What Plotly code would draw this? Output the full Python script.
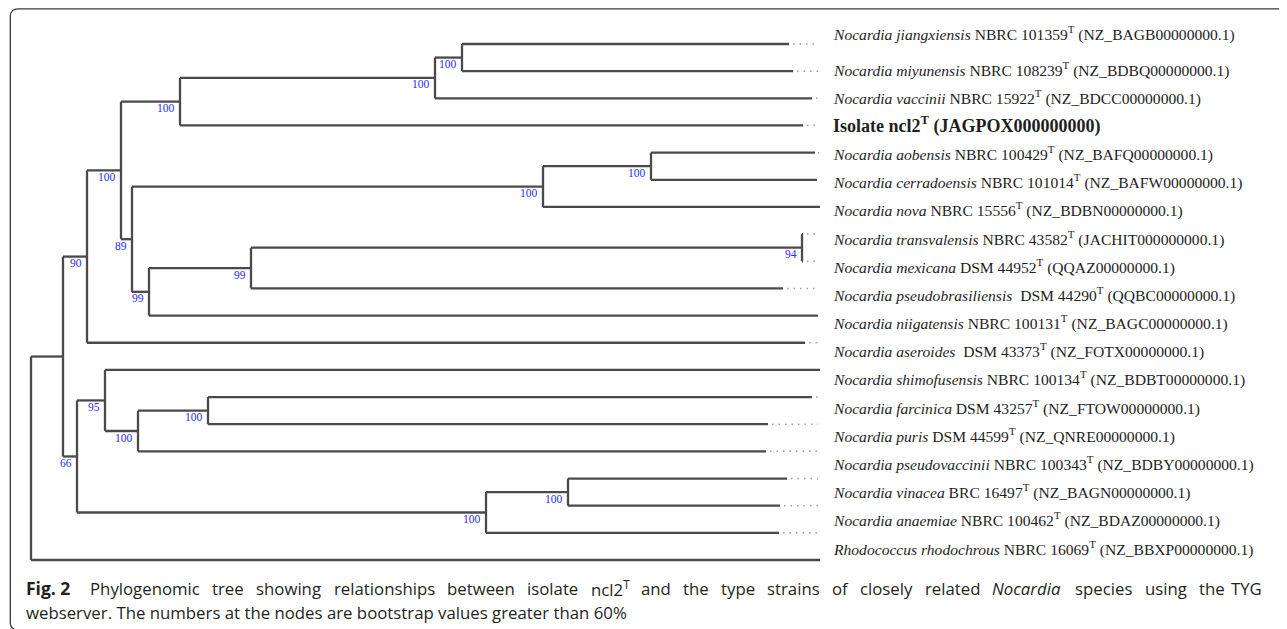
import plotly.graph_objects as go

# ---------------- data ----------------
# tips of the tree, top to bottom, with the clade each hangs from and its depth
leaf_names = ["N. jiangxiensis", "N. miyunensis", "N. vaccinii", "Isolate ncl2",
              "N. aobensis", "N. cerradoensis", "N. nova", "N. transvalensis",
              "N. mexicana", "N. pseudobrasiliensis", "N. niigatensis", "N. aseroides",
              "N. shimofusensis", "N. farcinica", "N. puris", "N. pseudovaccinii",
              "N. vinacea", "N. anaemiae", "unlabelled tip", "R. rhodochrous"]
leaf_parent = ["H", "H", "G", "E", "L", "L", "K", "M", "M", "J", "I", "B",
               "N", "Q", "Q", "P", "R", "R", "O", "root"]
leaf_depth = [758, 762, 781, 772, 784, 786, 789, 772, 772, 752, 787, 774,
              789, 781, 737, 735, 756, 749, 748, 789]

# internal nodes (clades), their parent clade, depth and bootstrap support
clade_names = ["root", "A", "B", "D", "E", "G", "H", "F", "K", "L", "I", "J", "M",
               "C", "N", "P", "Q", "O", "R"]
clade_parent = [None, "root", "A", "B", "D", "E", "G", "D", "F", "K", "F", "I", "J",
                "A", "C", "N", "P", "C", "O"]
clade_depth = [0, 32, 56, 90, 149, 404, 431, 101, 512, 620, 118, 220, 771,
               46, 74, 107, 177, 455, 537]
clade_support = [None, None, 90, 100, 100, 100, 100, 89, 100, 100, 99, 99, 94,
                 66, 95, 100, 100, 100, 100]

# tip labels shown to the right of the tree
species_labels = [
    "<i>Nocardia jiangxiensis</i> NBRC 101359<sup>T</sup> (NZ_BAGB00000000.1)",
    "<i>Nocardia miyunensis</i> NBRC 108239<sup>T</sup> (NZ_BDBQ00000000.1)",
    "<i>Nocardia vaccinii</i> NBRC 15922<sup>T</sup> (NZ_BDCC00000000.1)",
    "<b>Isolate ncl2<sup>T</sup> (JAGPOX000000000)</b>",
    "<i>Nocardia aobensis</i> NBRC 100429<sup>T</sup> (NZ_BAFQ00000000.1)",
    "<i>Nocardia cerradoensis</i> NBRC 101014<sup>T</sup> (NZ_BAFW00000000.1)",
    "<i>Nocardia nova</i> NBRC 15556<sup>T</sup> (NZ_BDBN00000000.1)",
    "<i>Nocardia transvalensis</i> NBRC 43582<sup>T</sup> (JACHIT000000000.1)",
    "<i>Nocardia mexicana</i> DSM 44952<sup>T</sup> (QQAZ00000000.1)",
    "<i>Nocardia pseudobrasiliensis</i>  DSM 44290<sup>T</sup> (QQBC00000000.1)",
    "<i>Nocardia niigatensis</i> NBRC 100131<sup>T</sup> (NZ_BAGC00000000.1)",
    "<i>Nocardia aseroides</i>  DSM 43373<sup>T</sup> (NZ_FOTX00000000.1)",
    "<i>Nocardia shimofusensis</i> NBRC 100134<sup>T</sup> (NZ_BDBT00000000.1)",
    "<i>Nocardia farcinica</i> DSM 43257<sup>T</sup> (NZ_FTOW00000000.1)",
    "<i>Nocardia puris</i> DSM 44599<sup>T</sup> (NZ_QNRE00000000.1)",
    "<i>Nocardia pseudovaccinii</i> NBRC 100343<sup>T</sup> (NZ_BDBY00000000.1)",
    "<i>Nocardia vinacea</i> BRC 16497<sup>T</sup> (NZ_BAGN00000000.1)",
    "<i>Nocardia anaemiae</i> NBRC 100462<sup>T</sup> (NZ_BDAZ00000000.1)",
    "<i>Rhodococcus rhodochrous</i> NBRC 16069<sup>T</sup> (NZ_BBXP00000000.1)",
]

caption_fig = "Fig. 2"
caption_words1 = ["Phylogenomic", "tree", "showing", "relationships", "between", "isolate",
                  "ncl2<sup>T</sup>", "and", "the", "type", "strains", "of", "closely",
                  "related", "<i>Nocardia</i>", "species", "using", "the", "TYG"]
caption_line2 = "webserver. The numbers at the nodes are bootstrap values greater than 60%"

# ---------------- layout constants ----------------
OFF = 8                   # the page body margin that the figure sits inside
W, H = 1287 - OFF, 629 - OFF
ROW_PX = 27.158           # pixel height of one tip row
TOP_ROW_PX = 44 - OFF     # y of the first tip
ROOT_PX = 31 - OFF        # x of the root
ALIGN = 787               # depth where the dotted leaders stop
LABEL_X = 800
LABEL_FIRST_PX, LABEL_SECOND_PX, LABEL_STEP_PX = 33 - OFF, 69 - OFF, 28.18
CAP_FONT = 16.8


def px_to_row(py):
    return (py - TOP_ROW_PX) / ROW_PX


# ---------------- build the tree geometry ----------------
depth = dict(zip(clade_names, clade_depth))
depth.update(dict(zip(leaf_names, leaf_depth)))
parent = dict(zip(clade_names, clade_parent))
parent.update(dict(zip(leaf_names, leaf_parent)))
children = {c: [] for c in clade_names}
for n in leaf_names + clade_names:
    if parent[n] is not None:
        children[parent[n]].append(n)

ypos = {name: float(i) for i, name in enumerate(leaf_names)}


def node_y(n):
    if n in ypos:
        return ypos[n]
    ys = [node_y(c) for c in children[n]]
    ypos[n] = (min(ys) + max(ys)) / 2
    return ypos[n]


for c in clade_names:
    node_y(c)

bx, by = [], []
for n in leaf_names + clade_names:
    p = parent[n]
    if p is not None:
        bx += [depth[p], depth[n], None]
        by += [ypos[n], ypos[n], None]
for c in clade_names:
    ys = [ypos[k] for k in children[c]]
    bx += [depth[c], depth[c], None]
    by += [min(ys), max(ys), None]

dx, dy = [], []
for n, d in zip(leaf_names, leaf_depth):
    if ALIGN - d >= 3:
        dx += [d + 4, ALIGN, None]
        dy += [ypos[n], ypos[n], None]

fig = go.Figure()
fig.add_trace(go.Scatter(x=dx, y=dy, mode="lines", hoverinfo="skip",
                         line=dict(color="#a0a0a0", width=1.5, dash="1.5px,5px")))
fig.add_trace(go.Scatter(x=bx, y=by, mode="lines", hoverinfo="skip",
                         line=dict(color="#4a4a4a", width=2.3)))

annotations = []
for c, s in zip(clade_names, clade_support):
    if s is None:
        continue
    annotations.append(dict(x=depth[c] - 3, y=ypos[c] + 0.24, text=str(s),
                            xanchor="right", yanchor="middle", showarrow=False,
                            font=dict(family="Liberation Serif", size=11.5, color="#2a2aff")))

for k, lab in enumerate(species_labels):
    py = LABEL_FIRST_PX if k == 0 else LABEL_SECOND_PX + (k - 1) * LABEL_STEP_PX
    bold = lab.startswith("<b>")
    annotations.append(dict(x=LABEL_X, y=px_to_row(py), text=lab, xanchor="left",
                            yanchor="middle", showarrow=False,
                            font=dict(family="Liberation Serif", size=18 if bold else 15.6,
                                      color="#1e1e1e")))

# ---- caption: first line justified word by word, second line left aligned ----
OS = {" ": 532, "a": 1139, "b": 1255, "c": 975, "d": 1255, "e": 1149, "f": 694, "g": 1122,
      "h": 1257, "i": 518, "j": 518, "k": 1075, "l": 518, "m": 1905, "n": 1257, "o": 1237,
      "p": 1255, "r": 836, "s": 977, "t": 723, "u": 1257, "v": 1026, "w": 1593, "x": 1073,
      "y": 1028, "z": 977, "N": 1520, "P": 1231, "T": 1075, "Y": 1067, "G": 1425,
      "2": 1171, ".": 545, "0": 1171, "6": 1171, "%": 1696}


def raw_width(word):
    plain = word.replace("<i>", "").replace("</i>", "")
    sup = ""
    if "<sup>" in plain:
        plain, sup = plain.split("<sup>")
        sup = sup.replace("</sup>", "")
    return sum(OS.get(ch, 1100) for ch in plain) + 0.7 * sum(OS.get(ch, 1100) for ch in sup)


# calibrate the table on the measured rendering of line 2 (534 px at 14.9 px)
CAL = 534 / (raw_width(caption_line2) / 2048 * 14.9)


def word_px(word):
    return raw_width(word) / 2048 * CAP_FONT * CAL


cap_font = dict(family="Open Sans", size=CAP_FONT, color="#231f20")
CAP1_Y, CAP2_Y = 588 - OFF, 612 - OFF
CAP_LEFT, CAP_WORD0, CAP_RIGHT = 24 - OFF, 88 - OFF, 1264 - OFF
annotations.append(dict(x=CAP_LEFT / W, y=1 - CAP1_Y / H, xref="paper", yref="paper",
                        text="<b>" + caption_fig + "</b>", xanchor="left", yanchor="middle",
                        showarrow=False, font=dict(family="Open Sans", size=17.5, color="#231f20")))
widths = [word_px(w) for w in caption_words1]
gap = (CAP_RIGHT - CAP_WORD0 - sum(widths)) / (len(widths) - 1)
xcur = CAP_WORD0
for i, (wd, wpx) in enumerate(zip(caption_words1, widths)):
    last = i == len(widths) - 1
    annotations.append(dict(x=(CAP_RIGHT if last else xcur) / W, y=1 - CAP1_Y / H,
                            xref="paper", yref="paper", text=wd,
                            xanchor="right" if last else "left", yanchor="middle",
                            showarrow=False, font=cap_font))
    xcur += wpx + gap
annotations.append(dict(x=CAP_LEFT / W, y=1 - CAP2_Y / H, xref="paper", yref="paper",
                        text=caption_line2, xanchor="left", yanchor="middle",
                        showarrow=False, font=cap_font))

# rounded frame around the whole figure (runs off the right and bottom edges)
bx0, bx1, bt, bb = 10 - OFF + 0.3, 18 - OFF, 8.8 - OFF, 630 - OFF
border = ("M 1.02,{t} L {x1},{t} Q {x0},{t} {x0},{t1} L {x0},{b1} Q {x0},{b} {x1},{b} L 1.02,{b}"
          .format(x0=bx0 / W, x1=bx1 / W, t=1 - bt / H, t1=1 - (bt + 8) / H,
                  b=1 - bb / H, b1=1 - (bb - 8) / H))

fig.update_layout(
    width=W, height=H, margin=dict(l=0, r=0, t=0, b=0),
    paper_bgcolor="white", plot_bgcolor="white", showlegend=False,
    xaxis=dict(range=[-ROOT_PX, W - ROOT_PX], visible=False, fixedrange=True),
    yaxis=dict(range=[px_to_row(H), px_to_row(0)], visible=False, fixedrange=True),
    annotations=annotations,
    shapes=[dict(type="path", xref="paper", yref="paper", path=border,
                 line=dict(color="#3a3a3a", width=1.3))],
)

fig.write_html("out.html")
